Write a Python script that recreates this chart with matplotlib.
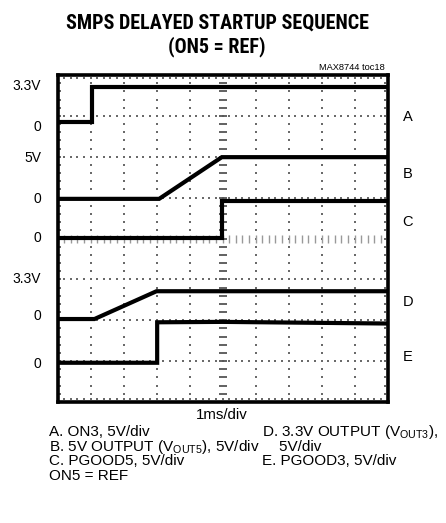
import matplotlib
matplotlib.use("Agg")
import matplotlib.pyplot as plt
from matplotlib import font_manager
import numpy as np

# narrow face for the heavy title, plain sans for the rest
names = {f.name for f in font_manager.fontManager.ttflist}
title_fam = 'Liberation Sans'
for cand in ['Liberation Sans Narrow', 'Roboto Condensed', 'DejaVu Sans Condensed', 'Open Sans Condensed']:
    if cand in names:
        title_fam = cand
        break

plt.rcParams['font.family'] = ['Liberation Sans', 'DejaVu Sans']
plt.rcParams['mathtext.fontset'] = 'custom'
plt.rcParams['mathtext.rm'] = 'Liberation Sans'

# traces, in scope divisions (x: 10 div, y: 8 div)
a_t = [0, 1.05, 1.05, 10]
a_v = [6.86, 6.86, 7.71, 7.71]
b_t = [0, 3.08, 4.98, 10]
b_v = [4.97, 4.97, 5.99, 5.99]
c_t = [0, 4.98, 4.98, 10]
c_v = [4.02, 4.02, 4.92, 4.92]
d_t = [0, 1.12, 3.0, 10]
d_v = [2.03, 2.03, 2.71, 2.71]
e_t = [0, 3.02, 3.02, 5.0, 10]
e_v = [0.96, 0.96, 1.95, 1.96, 1.92]

left_labels = ['3.3V', '0', '5V', '0', '0', '3.3V', '0', '0']
left_y = [7.72, 6.74, 5.98, 4.97, 4.01, 3.0, 2.11, 0.93]
trace_names = ['A', 'B', 'C', 'D', 'E']
name_y = [6.97, 5.58, 4.40, 2.45, 1.10]

legend_left = ['A. ON3, 5V/div',
               r'B. 5V OUTPUT (V$_{\rm OUT5}$), 5V/div',
               'C. PGOOD5, 5V/div',
               'ON5 = REF']
legend_right = [r'D. 3.3V OUTPUT (V$_{\rm OUT3}$),',
                '    5V/div',
                'E. PGOOD3, 5V/div']

fig = plt.figure(figsize=(4.46, 5.23), dpi=100)
ax = fig.add_axes([57.5 / 446, 1 - 402 / 523, 330 / 446, 327 / 523])
ax.set_xlim(0, 10)
ax.set_ylim(0, 8)
ax.set_xticks([])
ax.set_yticks([])
for s in ax.spines.values():
    s.set_linewidth(2.6)

# dotted graticule
gc = '#6a6a6a'
xs = np.arange(0, 10.01, 0.2)
ys = np.arange(0, 8.01, 0.2)
dot = dict(ls='none', marker='s', ms=1.5, mew=0, color=gc)
for gy in range(1, 8):
    if gy != 4:
        ax.plot(xs, np.full_like(xs, gy), **dot)
for gx in range(1, 10):
    if gx != 5:
        ax.plot(np.full_like(ys, gx), ys, **dot)
ax.plot(xs, np.full_like(xs, 7.93), **dot)
ax.plot(xs, np.full_like(xs, 0.07), **dot)
ax.plot(np.full_like(ys, 0.07), ys, **dot)
ax.plot(np.full_like(ys, 9.93), ys, **dot)
# center cross with tick marks
ax.plot(xs, np.full_like(xs, 4), ls='none', marker='|', ms=6, mew=1.0, color='#999999')
ax.plot(np.full_like(ys, 5), ys, ls='none', marker='_', ms=6, mew=1.3, color='#555555')

for t, v in [(a_t, a_v), (b_t, b_v), (c_t, c_v), (d_t, d_v), (e_t, e_v)]:
    ax.plot(t, v, color='black', lw=3.0, solid_joinstyle='miter')

for lab, y in zip(left_labels, left_y):
    ax.text(-0.5, y, lab, ha='right', va='center', fontsize=10, clip_on=False)
for lab, y in zip(trace_names, name_y):
    ax.text(10.62, y, lab, ha='center', va='center', fontsize=10.5, clip_on=False)

fig.text(217 / 446, 1 - 23 / 523, 'SMPS DELAYED STARTUP SEQUENCE', ha='center', va='center',
         fontsize=14.5, fontweight='black', family=title_fam)
fig.text(217 / 446, 1 - 47 / 523, '(ON5 = REF)', ha='center', va='center',
         fontsize=14.5, fontweight='black', family=title_fam)
fig.text(385 / 446, 1 - 67 / 523, 'MAX8744 toc18', ha='right', va='center', fontsize=6.7)
fig.text(222 / 446, 1 - 415 / 523, '1ms/div', ha='center', va='center', fontsize=10.8)

for i, line in enumerate(legend_left):
    fig.text(49 / 446, 1 - (432 + 14.7 * i) / 523, line, ha='left', va='center', fontsize=11)
for i, line in enumerate(legend_right):
    fig.text(262 / 446, 1 - (432 + 14.7 * i) / 523, line, ha='left', va='center', fontsize=11)

fig.savefig('out.png', dpi=100)
